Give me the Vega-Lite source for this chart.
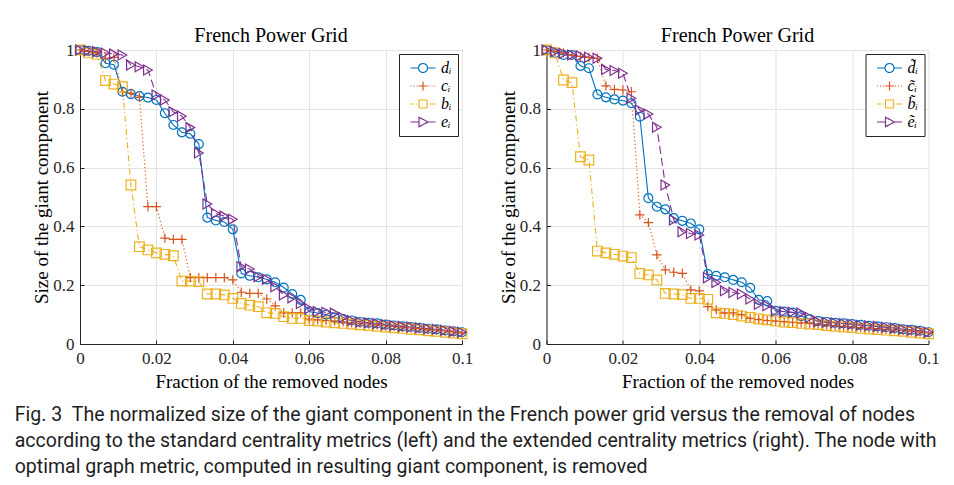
{
  "$schema": "https://vega.github.io/schema/vega-lite/v6.json",
  "background": "white",
  "padding": {"left": 14, "top": 26, "right": 5, "bottom": 5},
  "spacing": 25.5,
  "title": {
    "text": [
      "Fig. 3\u00a0\u00a0The normalized size of the giant component in the French power grid versus the removal of nodes",
      "according to the standard centrality metrics (left) and the extended centrality metrics (right). The node with",
      "optimal graph metric, computed in resulting giant component, is removed"
    ],
    "orient": "bottom",
    "anchor": "start",
    "frame": "bounds",
    "dx": -18,
    "font": "Roboto",
    "fontSize": 19.5,
    "fontWeight": "normal",
    "color": "#1e1e1e",
    "lineHeight": 26,
    "offset": 15
  },
  "datasets": {
    "left": [
      {"x":0,"d":1,"c":1,"b":1,"e":1},
      {"x":0.00222,"d":0.997,"c":0.995,"b":0.99,"e":0.998},
      {"x":0.00444,"d":0.993,"c":0.99,"b":0.985,"e":0.995},
      {"x":0.00667,"d":0.955,"c":0.972,"b":0.896,"e":0.99},
      {"x":0.00889,"d":0.95,"c":0.975,"b":0.884,"e":0.986},
      {"x":0.01111,"d":0.858,"c":0.858,"b":0.875,"e":0.983},
      {"x":0.01333,"d":0.85,"c":0.853,"b":0.541,"e":0.949},
      {"x":0.01556,"d":0.843,"c":0.839,"b":0.331,"e":0.943},
      {"x":0.01778,"d":0.838,"c":0.467,"b":0.32,"e":0.932},
      {"x":0.02,"d":0.83,"c":0.467,"b":0.31,"e":0.847},
      {"x":0.02222,"d":0.785,"c":0.36,"b":0.305,"e":0.83},
      {"x":0.02444,"d":0.745,"c":0.356,"b":0.3,"e":0.79},
      {"x":0.02667,"d":0.72,"c":0.356,"b":0.214,"e":0.775},
      {"x":0.02889,"d":0.715,"c":0.226,"b":0.214,"e":0.736},
      {"x":0.03111,"d":0.68,"c":0.226,"b":0.212,"e":0.65},
      {"x":0.03333,"d":0.43,"c":0.226,"b":0.17,"e":0.476},
      {"x":0.03556,"d":0.42,"c":0.226,"b":0.17,"e":0.444},
      {"x":0.03778,"d":0.415,"c":0.226,"b":0.167,"e":0.435},
      {"x":0.04,"d":0.39,"c":0.218,"b":0.155,"e":0.424},
      {"x":0.04222,"d":0.24,"c":0.176,"b":0.138,"e":0.263},
      {"x":0.04444,"d":0.232,"c":0.172,"b":0.132,"e":0.255},
      {"x":0.04667,"d":0.227,"c":0.172,"b":0.127,"e":0.229},
      {"x":0.04889,"d":0.22,"c":0.153,"b":0.106,"e":0.22},
      {"x":0.05111,"d":0.21,"c":0.13,"b":0.104,"e":0.195},
      {"x":0.05333,"d":0.192,"c":0.106,"b":0.093,"e":0.167},
      {"x":0.05556,"d":0.17,"c":0.106,"b":0.087,"e":0.157},
      {"x":0.05778,"d":0.15,"c":0.106,"b":0.087,"e":0.138},
      {"x":0.06,"d":0.11,"c":0.085,"b":0.08,"e":0.12},
      {"x":0.06222,"d":0.105,"c":0.082,"b":0.078,"e":0.11},
      {"x":0.06444,"d":0.1,"c":0.08,"b":0.075,"e":0.108},
      {"x":0.06667,"d":0.09,"c":0.078,"b":0.072,"e":0.105},
      {"x":0.06889,"d":0.085,"c":0.075,"b":0.07,"e":0.09},
      {"x":0.07111,"d":0.08,"c":0.072,"b":0.068,"e":0.08},
      {"x":0.07333,"d":0.075,"c":0.07,"b":0.065,"e":0.075},
      {"x":0.07556,"d":0.072,"c":0.068,"b":0.063,"e":0.072},
      {"x":0.07778,"d":0.07,"c":0.065,"b":0.06,"e":0.07},
      {"x":0.08,"d":0.066,"c":0.062,"b":0.058,"e":0.066},
      {"x":0.08222,"d":0.063,"c":0.06,"b":0.055,"e":0.063},
      {"x":0.08444,"d":0.06,"c":0.057,"b":0.053,"e":0.06},
      {"x":0.08667,"d":0.058,"c":0.055,"b":0.05,"e":0.058},
      {"x":0.08889,"d":0.055,"c":0.052,"b":0.048,"e":0.055},
      {"x":0.09111,"d":0.052,"c":0.05,"b":0.045,"e":0.052},
      {"x":0.09333,"d":0.05,"c":0.047,"b":0.043,"e":0.05},
      {"x":0.09556,"d":0.046,"c":0.045,"b":0.04,"e":0.047},
      {"x":0.09778,"d":0.043,"c":0.042,"b":0.037,"e":0.043},
      {"x":0.1,"d":0.04,"c":0.038,"b":0.035,"e":0.04}
    ],
    "right": [
      {"x":0,"d":1,"c":1,"b":1,"e":1},
      {"x":0.00222,"d":0.99,"c":0.995,"b":0.99,"e":0.995},
      {"x":0.00444,"d":0.983,"c":0.99,"b":0.898,"e":0.988},
      {"x":0.00667,"d":0.983,"c":0.982,"b":0.889,"e":0.983},
      {"x":0.00889,"d":0.946,"c":0.978,"b":0.637,"e":0.98},
      {"x":0.01111,"d":0.938,"c":0.975,"b":0.626,"e":0.975},
      {"x":0.01333,"d":0.849,"c":0.972,"b":0.316,"e":0.972},
      {"x":0.01556,"d":0.839,"c":0.878,"b":0.31,"e":0.934},
      {"x":0.01778,"d":0.832,"c":0.866,"b":0.305,"e":0.93},
      {"x":0.02,"d":0.828,"c":0.864,"b":0.299,"e":0.921},
      {"x":0.02222,"d":0.819,"c":0.858,"b":0.294,"e":0.836},
      {"x":0.02444,"d":0.773,"c":0.439,"b":0.24,"e":0.796},
      {"x":0.02667,"d":0.496,"c":0.413,"b":0.235,"e":0.782},
      {"x":0.02889,"d":0.467,"c":0.303,"b":0.218,"e":0.737},
      {"x":0.03111,"d":0.458,"c":0.252,"b":0.172,"e":0.541},
      {"x":0.03333,"d":0.428,"c":0.244,"b":0.17,"e":0.422},
      {"x":0.03556,"d":0.419,"c":0.24,"b":0.168,"e":0.382},
      {"x":0.03778,"d":0.41,"c":0.184,"b":0.155,"e":0.376},
      {"x":0.04,"d":0.39,"c":0.181,"b":0.155,"e":0.371},
      {"x":0.04222,"d":0.238,"c":0.127,"b":0.152,"e":0.225},
      {"x":0.04444,"d":0.232,"c":0.116,"b":0.106,"e":0.209},
      {"x":0.04667,"d":0.227,"c":0.106,"b":0.104,"e":0.181},
      {"x":0.04889,"d":0.218,"c":0.106,"b":0.1,"e":0.175},
      {"x":0.05111,"d":0.21,"c":0.1,"b":0.095,"e":0.17},
      {"x":0.05333,"d":0.191,"c":0.087,"b":0.09,"e":0.153},
      {"x":0.05556,"d":0.15,"c":0.083,"b":0.085,"e":0.135},
      {"x":0.05778,"d":0.146,"c":0.08,"b":0.082,"e":0.13},
      {"x":0.06,"d":0.113,"c":0.078,"b":0.078,"e":0.112},
      {"x":0.06222,"d":0.11,"c":0.076,"b":0.075,"e":0.11},
      {"x":0.06444,"d":0.107,"c":0.074,"b":0.073,"e":0.108},
      {"x":0.06667,"d":0.095,"c":0.072,"b":0.07,"e":0.105},
      {"x":0.06889,"d":0.085,"c":0.07,"b":0.068,"e":0.09},
      {"x":0.07111,"d":0.078,"c":0.068,"b":0.066,"e":0.076},
      {"x":0.07333,"d":0.075,"c":0.065,"b":0.063,"e":0.074},
      {"x":0.07556,"d":0.072,"c":0.063,"b":0.06,"e":0.072},
      {"x":0.07778,"d":0.07,"c":0.06,"b":0.058,"e":0.07},
      {"x":0.08,"d":0.068,"c":0.058,"b":0.056,"e":0.067},
      {"x":0.08222,"d":0.065,"c":0.056,"b":0.053,"e":0.064},
      {"x":0.08444,"d":0.062,"c":0.054,"b":0.051,"e":0.062},
      {"x":0.08667,"d":0.06,"c":0.052,"b":0.049,"e":0.06},
      {"x":0.08889,"d":0.057,"c":0.05,"b":0.047,"e":0.057},
      {"x":0.09111,"d":0.054,"c":0.048,"b":0.045,"e":0.054},
      {"x":0.09333,"d":0.05,"c":0.046,"b":0.043,"e":0.05},
      {"x":0.09556,"d":0.048,"c":0.044,"b":0.04,"e":0.047},
      {"x":0.09778,"d":0.045,"c":0.041,"b":0.037,"e":0.044},
      {"x":0.1,"d":0.04,"c":0.038,"b":0.035,"e":0.04}
    ]
  },
  "resolve": {"scale": {"color": "independent", "shape": "independent", "strokeDash": "independent", "size": "independent"}, "legend": {"color": "independent"}},
  "hconcat": [
    {
      "width": 382,
      "height": 294,
      "title": {"text": "French Power Grid"},
      "data": {"name": "left"},
      "transform": [{"fold": ["d", "c", "b", "e"], "as": ["s", "y"]}],
      "encoding": {
        "x": {"field": "x", "type": "quantitative", "scale": {"domain": [0, 0.1], "nice": false}, "axis": {"values": [0, 0.02, 0.04, 0.06, 0.08, 0.1], "format": "~g", "title": "Fraction of the removed nodes"}},
        "y": {"field": "y", "type": "quantitative", "scale": {"domain": [0, 1], "nice": false}, "axis": {"values": [0, 0.2, 0.4, 0.6, 0.8, 1], "format": "~g", "title": "Size of the giant component"}},
        "color": {"field": "s", "type": "nominal", "sort": ["d", "c", "b", "e"], "scale": {"range": ["#0072BD", "#D95319", "#EDB120", "#7E2F8E"]},
          "legend": {"labelExpr": "datum.value + 'ᵢ'",
            "encode": {"symbols": {"update": {
              "shape": {"signal": "datum.value==='d' ? 'M-2.5,0H-0.9M0.9,0H2.5M0.9,0A0.9,0.9,0,1,1,-0.9,0A0.9,0.9,0,1,1,0.9,0' : datum.value==='c' ? 'M-2.5,0h0.2M-1.9,0h0.2M-1.3,0h0.2M-0.9,0H0.9M0,-0.9V0.9M1.1,0h0.2M1.7,0h0.2M2.3,0h0.2' : datum.value==='b' ? 'M-2.5,0H-1.7M-1.4,0h0.2M0.8,0h0.2M1.3,0H2.5M-0.8,-0.8H0.8V0.8H-0.8Z' : 'M-2.5,0H-0.8M1,0H2.5M-0.8,-0.95L1,0L-0.8,0.95Z'"},
              "strokeDash": {"value": [1, 0]},
              "size": {"value": 100},
              "fill": {"value": "transparent"},
              "strokeWidth": {"value": 1.2}
            }}}}
        }
      },
      "layer": [
        {"mark": {"type": "line", "strokeWidth": 1.1}, "encoding": {"strokeDash": {"field": "s", "type": "nominal", "scale": {"domain": ["d", "c", "b", "e"], "range": [[1, 0], [1.2, 2.5], [6, 3, 1.2, 3], [8, 4]]}, "legend": null}}},
        {"mark": {"type": "point", "filled": false, "strokeWidth": 1.2, "opacity": 1}, "encoding": {
          "shape": {"field": "s", "type": "nominal", "scale": {"domain": ["d", "c", "b", "e"], "range": ["circle", "M-1,0H1M0,-1V1", "square", "triangle-right"]}, "legend": null},
          "size": {"field": "s", "type": "nominal", "scale": {"domain": ["d", "c", "b", "e"], "range": [80, 100, 60, 90]}, "legend": null}}}
      ]
    },
    {
      "width": 382,
      "height": 294,
      "title": {"text": "French Power Grid"},
      "data": {"name": "right"},
      "transform": [{"fold": ["d", "c", "b", "e"], "as": ["s", "y"]}],
      "encoding": {
        "x": {"field": "x", "type": "quantitative", "scale": {"domain": [0, 0.1], "nice": false}, "axis": {"values": [0, 0.02, 0.04, 0.06, 0.08, 0.1], "format": "~g", "title": "Fraction of the removed nodes"}},
        "y": {"field": "y", "type": "quantitative", "scale": {"domain": [0, 1], "nice": false}, "axis": {"values": [0, 0.2, 0.4, 0.6, 0.8, 1], "format": "~g", "title": "Size of the giant component"}},
        "color": {"field": "s", "type": "nominal", "sort": ["d", "c", "b", "e"], "scale": {"range": ["#0072BD", "#D95319", "#EDB120", "#7E2F8E"]},
          "legend": {"labelExpr": "datum.value + '\u0303ᵢ'",
            "encode": {"symbols": {"update": {
              "shape": {"signal": "datum.value==='d' ? 'M-2.5,0H-0.9M0.9,0H2.5M0.9,0A0.9,0.9,0,1,1,-0.9,0A0.9,0.9,0,1,1,0.9,0' : datum.value==='c' ? 'M-2.5,0h0.2M-1.9,0h0.2M-1.3,0h0.2M-0.9,0H0.9M0,-0.9V0.9M1.1,0h0.2M1.7,0h0.2M2.3,0h0.2' : datum.value==='b' ? 'M-2.5,0H-1.7M-1.4,0h0.2M0.8,0h0.2M1.3,0H2.5M-0.8,-0.8H0.8V0.8H-0.8Z' : 'M-2.5,0H-0.8M1,0H2.5M-0.8,-0.95L1,0L-0.8,0.95Z'"},
              "strokeDash": {"value": [1, 0]},
              "size": {"value": 100},
              "fill": {"value": "transparent"},
              "strokeWidth": {"value": 1.2}
            }}}}
        }
      },
      "layer": [
        {"mark": {"type": "line", "strokeWidth": 1.1}, "encoding": {"strokeDash": {"field": "s", "type": "nominal", "scale": {"domain": ["d", "c", "b", "e"], "range": [[1, 0], [1.2, 2.5], [6, 3, 1.2, 3], [8, 4]]}, "legend": null}}},
        {"mark": {"type": "point", "filled": false, "strokeWidth": 1.2, "opacity": 1}, "encoding": {
          "shape": {"field": "s", "type": "nominal", "scale": {"domain": ["d", "c", "b", "e"], "range": ["circle", "M-1,0H1M0,-1V1", "square", "triangle-right"]}, "legend": null},
          "size": {"field": "s", "type": "nominal", "scale": {"domain": ["d", "c", "b", "e"], "range": [80, 100, 60, 90]}, "legend": null}}}
      ]
    }
  ],
  "config": {
    "view": {"stroke": null},
    "title": {"font": "Liberation Serif", "fontSize": 20, "fontWeight": "normal", "color": "#000000", "offset": -5, "anchor": "middle"},
    "axis": {
      "labelFont": "Liberation Serif", "labelFontSize": 17, "labelColor": "#262626",
      "titleFont": "Liberation Serif", "titleFontSize": 19, "titleFontWeight": "normal", "titleColor": "#000000",
      "domainColor": "#262626", "tickColor": "#262626", "tickSize": -4, "labelPadding": 10,
      "gridColor": "#e3e3e3", "grid": true, "labelFlush": false, "labelOverlap": false
    },
    "axisX": {"titlePadding": 6},
    "axisY": {"titlePadding": 1},
    "legend": {
      "orient": "top-right", "offset": 4, "title": null,
      "strokeColor": "#262626", "fillColor": "white", "padding": 6, "cornerRadius": 0,
      "symbolSize": 100, "symbolOffset": 10, "labelOffset": 10, "rowPadding": 2,
      "labelFont": "Liberation Serif", "labelFontSize": 16, "labelFontStyle": "italic", "labelColor": "#000000"
    }
  }
}
